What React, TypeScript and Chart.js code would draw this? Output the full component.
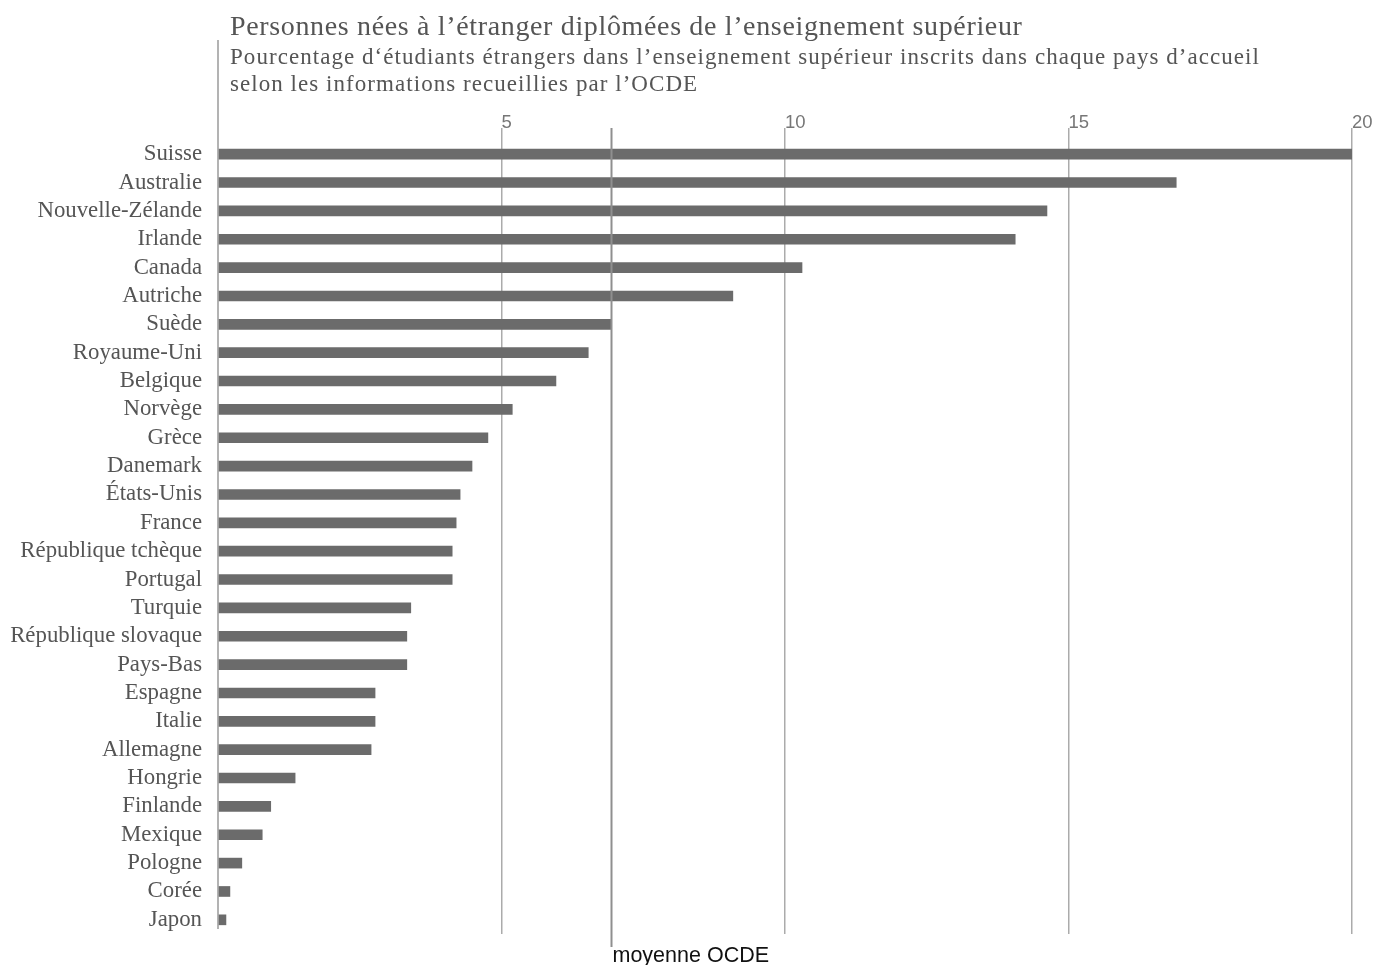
import React, { useEffect, useRef } from "react";
import { Chart, registerables } from "chart.js";

Chart.register(...registerables);

const categories = [
  "Suisse", "Australie", "Nouvelle-Zélande", "Irlande", "Canada", "Autriche", "Suède",
  "Royaume-Uni", "Belgique", "Norvège", "Grèce", "Danemark", "États-Unis", "France",
  "République tchèque", "Portugal", "Turquie", "République slovaque", "Pays-Bas",
  "Espagne", "Italie", "Allemagne", "Hongrie", "Finlande", "Mexique", "Pologne", "Corée", "Japon",
];

const values = [
  20.0, 16.9, 14.62, 14.06, 10.3, 9.08, 6.93,
  6.53, 5.96, 5.19, 4.76, 4.48, 4.27, 4.2,
  4.13, 4.13, 3.4, 3.33, 3.33,
  2.77, 2.77, 2.7, 1.36, 0.93, 0.78, 0.42, 0.21, 0.14,
];

const oecdMean = 6.93;
const tickValues = [0, 5, 10, 15, 20];

const titleText = "Personnes nées à l’étranger diplômées de l’enseignement supérieur";
const subtitleLines = [
  "Pourcentage d‘étudiants étrangers dans l’enseignement supérieur inscrits dans chaque pays d’accueil",
  "selon les informations recueillies par l’OCDE",
];
const meanLabel = "moyenne OCDE";

const SERIF = "'Liberation Serif', 'DejaVu Serif', serif";
const SANS = "'Liberation Sans', 'DejaVu Sans', sans-serif";

const overlayPlugin = {
  id: "overlay",
  afterDraw(chart: any) {
    const ctx = chart.ctx;
    const area = chart.chartArea;
    const x = chart.scales.x;
    ctx.save();
    // Title & subtitle
    ctx.fillStyle = "#555";
    ctx.textAlign = "left";
    ctx.textBaseline = "alphabetic";
    ctx.font = `28px ${SERIF}`;
    ctx.letterSpacing = "0.65px";
    ctx.fillText(titleText, 230, 35);
    ctx.font = `23px ${SERIF}`;
    ctx.letterSpacing = "1.05px";
    ctx.fillText(subtitleLines[0], 230, 64);
    ctx.fillText(subtitleLines[1], 230, 91);
    ctx.letterSpacing = "0px";
    // y axis line
    ctx.strokeStyle = "#9a9a9a";
    ctx.lineWidth = 1.5;
    ctx.beginPath();
    ctx.moveTo(area.left, 40);
    ctx.lineTo(area.left, area.bottom - 5);
    ctx.stroke();
    // mean line
    const mx = Math.round(x.getPixelForValue(oecdMean)) + 0.5;
    ctx.strokeStyle = "#8f8f8f";
    ctx.lineWidth = 2;
    ctx.beginPath();
    ctx.moveTo(mx, 128);
    ctx.lineTo(mx, 947);
    ctx.stroke();
    ctx.fillStyle = "#111";
    ctx.font = `21.5px ${SANS}`;
    ctx.textBaseline = "alphabetic";
    ctx.fillText(meanLabel, mx + 1, 962);
    ctx.restore();
  },
};

export default function App() {
  const ref = useRef<HTMLCanvasElement | null>(null);
  useEffect(() => {
    if (!ref.current) return;
    const chart = new Chart(ref.current, {
      type: "bar",
      data: {
        labels: categories,
        datasets: [
          {
            data: values,
            backgroundColor: "#6b6b6b",
            borderWidth: 0,
            barThickness: 10,
          },
        ],
      },
      options: {
        indexAxis: "y",
        animation: false,
        responsive: false,
        maintainAspectRatio: false,
        layout: { padding: { left: 0, right: 26, top: 0, bottom: 31 } },
        plugins: {
          legend: { display: false },
          tooltip: { enabled: false },
          title: { display: false },
        },
        scales: {
          x: {
            position: "top",
            min: 0,
            max: 20,
            z: 1,
            afterFit: (s: any) => {
              s.height = 140;
            },
            afterBuildTicks: (s: any) => {
              s.ticks = tickValues.map((v) => ({ value: v }));
            },
            border: { display: false },
            grid: {
              color: (c: any) => (c.tick && c.tick.value === 0 ? "rgba(0,0,0,0)" : "#ababab"),
              lineWidth: 1.5,
              tickLength: 12,
              drawTicks: true,
            },
            ticks: {
              align: "start",
              padding: -6,
              color: "#777",
              font: { family: SANS, size: 18.5 },
              callback: (v: any) => (v === 0 ? "" : String(v)),
            },
          },
          y: {
            afterFit: (s: any) => {
              s.width = 218;
            },
            border: { display: false },
            grid: { display: false, drawTicks: false },
            ticks: {
              padding: 16,
              color: "#555",
              font: { family: SERIF, size: 22.8 },
              autoSkip: false,
            },
          },
        },
      },
      plugins: [overlayPlugin],
    });
    return () => chart.destroy();
  }, []);
  return (
    <div style={{ position: "fixed", left: 0, top: 0, width: 1378, height: 965, background: "#fff" }}>
      <canvas ref={ref} width={1378} height={965} />
    </div>
  );
}
